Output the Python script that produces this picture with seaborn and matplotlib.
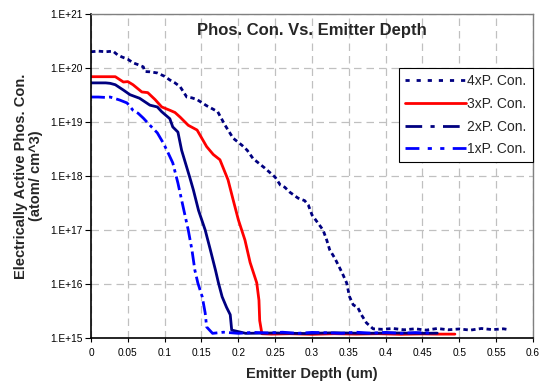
import numpy as np
import pandas as pd
import matplotlib
matplotlib.use("Agg")
import matplotlib.pyplot as plt
import matplotlib.ticker as mticker
from matplotlib.lines import Line2D
import seaborn as sns

# depth (um) and concentration (atom/cm^3)
x_4x = [0, 0.01, 0.02, 0.03, 0.036, 0.042, 0.05, 0.057, 0.064, 0.071, 0.073, 0.08, 0.09, 0.1, 0.107,
        0.114, 0.121, 0.13, 0.137, 0.144, 0.157, 0.165, 0.172, 0.182, 0.193, 0.2, 0.205, 0.212, 0.22,
        0.236, 0.25, 0.257, 0.263, 0.27, 0.281, 0.29, 0.295, 0.3, 0.308, 0.315, 0.32, 0.324, 0.331,
        0.341, 0.347, 0.351, 0.356, 0.362, 0.367, 0.374, 0.383, 0.395, 0.41, 0.425, 0.44, 0.455,
        0.47, 0.485, 0.5, 0.515, 0.53, 0.545, 0.56, 0.568]
y_4x = [2.0e20, 2.05e20, 2.0e20, 2.05e20, 1.75e20, 1.6e20, 1.45e20, 1.25e20, 1.15e20, 1.05e20, 8.6e19,
        8.5e19, 8.1e19, 7.0e19, 6.0e19, 5.3e19, 4.5e19, 2.9e19, 2.8e19, 2.6e19, 2.0e19, 1.75e19,
        1.55e19, 8.7e18, 5.0e18, 4.2e18, 3.7e18, 3.0e18, 2.1e18, 1.4e18, 9.5e17, 6.8e17, 6.2e17,
        5.0e17, 3.9e17, 3.5e17, 2.9e17, 1.9e17, 1.35e17, 1.0e17, 6.5e16, 4.3e16, 3.0e16, 1.6e16,
        1.05e16, 5.8e15, 4.1e15, 3.7e15, 2.7e15, 1.9e15, 1.48e15, 1.45e15, 1.5e15, 1.42e15, 1.48e15,
        1.4e15, 1.5e15, 1.42e15, 1.47e15, 1.4e15, 1.5e15, 1.43e15, 1.48e15, 1.42e15]

x_3x = [0, 0.01, 0.02, 0.033, 0.044, 0.05, 0.057, 0.063, 0.069, 0.077, 0.087, 0.096, 0.107, 0.114,
        0.121, 0.132, 0.144, 0.157, 0.166, 0.175, 0.186, 0.193, 0.2, 0.209, 0.216, 0.225, 0.228,
        0.229, 0.232, 0.245, 0.27, 0.3, 0.33, 0.36, 0.39, 0.42, 0.45, 0.47, 0.494]
y_3x = [6.9e19, 6.9e19, 6.9e19, 6.9e19, 5.5e19, 5.6e19, 4.9e19, 4.2e19, 3.6e19, 3.5e19, 2.6e19,
        1.9e19, 1.65e19, 1.5e19, 1.23e19, 8.7e18, 7.1e18, 3.5e18, 2.5e18, 2.0e18, 8.5e17, 3.6e17,
        1.55e17, 6.5e16, 2.5e16, 1.05e16, 5.0e15, 2.1e15, 1.2e15, 1.18e15, 1.2e15, 1.17e15, 1.2e15,
        1.18e15, 1.2e15, 1.17e15, 1.19e15, 1.18e15, 1.18e15]

x_2x = [0, 0.01, 0.02, 0.026, 0.033, 0.044, 0.053, 0.066, 0.08, 0.09, 0.096, 0.107, 0.111, 0.118,
        0.123, 0.134, 0.139, 0.146, 0.155, 0.162, 0.169, 0.173, 0.178, 0.184, 0.189, 0.191, 0.21,
        0.25, 0.29, 0.33, 0.37, 0.41, 0.45, 0.47]
y_2x = [5.3e19, 5.3e19, 5.3e19, 5.2e19, 4.9e19, 3.9e19, 3.2e19, 2.75e19, 2.05e19, 1.9e19, 1.55e19,
        1.15e19, 8.1e18, 6.5e18, 3.0e18, 9.5e17, 5.5e17, 2.3e17, 1.0e17, 4.3e16, 1.8e16, 1.05e16,
        5.8e15, 3.7e15, 2.7e15, 1.4e15, 1.22e15, 1.24e15, 1.21e15, 1.25e15, 1.22e15, 1.24e15,
        1.22e15, 1.23e15]

x_1x = [0, 0.01, 0.02, 0.026, 0.039, 0.049, 0.057, 0.064, 0.071, 0.08, 0.09, 0.098, 0.103, 0.111,
        0.118, 0.125, 0.132, 0.137, 0.141, 0.145, 0.151, 0.155, 0.157, 0.165, 0.18, 0.2, 0.22,
        0.24, 0.26, 0.28, 0.3, 0.32, 0.34, 0.36, 0.38, 0.4, 0.42, 0.44, 0.46]
y_1x = [2.9e19, 2.9e19, 2.85e19, 2.9e19, 2.55e19, 2.25e19, 1.65e19, 1.45e19, 1.18e19, 8.7e18, 6.3e18,
        4.1e18, 3.0e18, 1.75e18, 7.4e17, 2.7e17, 1.0e17, 4.3e16, 1.8e16, 1.05e16, 5.8e15, 2.9e15,
        1.6e15, 1.22e15, 1.28e15, 1.22e15, 1.27e15, 1.24e15, 1.28e15, 1.22e15, 1.27e15, 1.25e15,
        1.22e15, 1.28e15, 1.23e15, 1.27e15, 1.22e15, 1.26e15, 1.24e15]

series = [
    ("4xP. Con.", x_4x, y_4x, "#000080", (0, (1.6, 1.2)), (0, (1.5, 2.5))),
    ("3xP. Con.", x_3x, y_3x, "#FF0000", "-", "-"),
    ("2xP. Con.", x_2x, y_2x, "#000080", "-", (0, (6, 3, 1.5, 3))),
    ("1xP. Con.", x_1x, y_1x, "#0000FF", (0, (5, 1.5, 1.2, 1.5)), (0, (5, 3, 1.5, 3, 1.5, 3))),
]

sns.set_style("white")
plt.rcParams['font.family'] = ['Liberation Sans', 'DejaVu Sans']

fig = plt.figure(figsize=(5.42, 3.81), dpi=100)
ax = fig.add_axes([91 / 542, 43 / 381, 442 / 542, 324 / 381])

handles = []
for label, xs, ys, color, ls, leg_ls in series:
    df = pd.DataFrame({"depth": xs, "conc": ys})
    sns.lineplot(data=df, x="depth", y="conc", ax=ax, color=color, linestyle=ls,
                 lw=2.0, sort=False, estimator=None)
    handles.append(Line2D([0], [0], color=color, lw=2.0, linestyle=leg_ls, label=label))

ax.set_yscale("log")
ax.set_ylim(1e15, 1e21)
ax.set_xlim(0, 0.6)
ax.set_xticks(np.arange(0, 0.601, 0.05))
ax.xaxis.set_major_formatter(mticker.FuncFormatter(lambda v, p: f"{v:.2f}".rstrip("0").rstrip(".")))
ax.yaxis.set_major_locator(mticker.LogLocator(base=10, numticks=10))
ax.yaxis.set_minor_locator(mticker.NullLocator())
ax.yaxis.set_major_formatter(mticker.FuncFormatter(lambda v, p: f"1.E+{int(round(np.log10(v)))}"))
ax.tick_params(axis="both", labelsize=7.3, colors="black")
ax.tick_params(axis="y", direction="out", length=4, width=0.8, left=True, pad=2)
ax.tick_params(axis="x", direction="out", length=3, width=0.8, bottom=True, pad=4)

ax.grid(True, color="#c0c0c0", linestyle=(0, (6, 4)), linewidth=0.9)
for side in ["left", "bottom"]:
    ax.spines[side].set_color("black")
    ax.spines[side].set_linewidth(1.2)
for side in ["top", "right"]:
    ax.spines[side].set_color("#808080")
    ax.spines[side].set_linewidth(1.0)

ax.set_xlabel("Emitter Depth (um)", fontsize=10.5, fontweight="bold", labelpad=7)
ax.set_ylabel("Electrically Active Phos. Con.\n(atom/ cm^3)", fontsize=10.5, fontweight="bold",
              labelpad=5, linespacing=1.1)
ax.text(0.5, 0.95, "Phos. Con. Vs. Emitter Depth", transform=ax.transAxes, ha="center", va="center",
        fontsize=12, fontweight="bold")

leg = ax.legend(handles=handles, loc="upper right", bbox_to_anchor=(1.0, 0.833), borderaxespad=0,
                fontsize=10, handlelength=4.4, handletextpad=0.1, labelspacing=0.62,
                borderpad=0.45, frameon=True, fancybox=False, edgecolor="black", framealpha=1)
leg.get_frame().set_linewidth(0.8)

fig.savefig("out.png", dpi=100)
plt.close(fig)
